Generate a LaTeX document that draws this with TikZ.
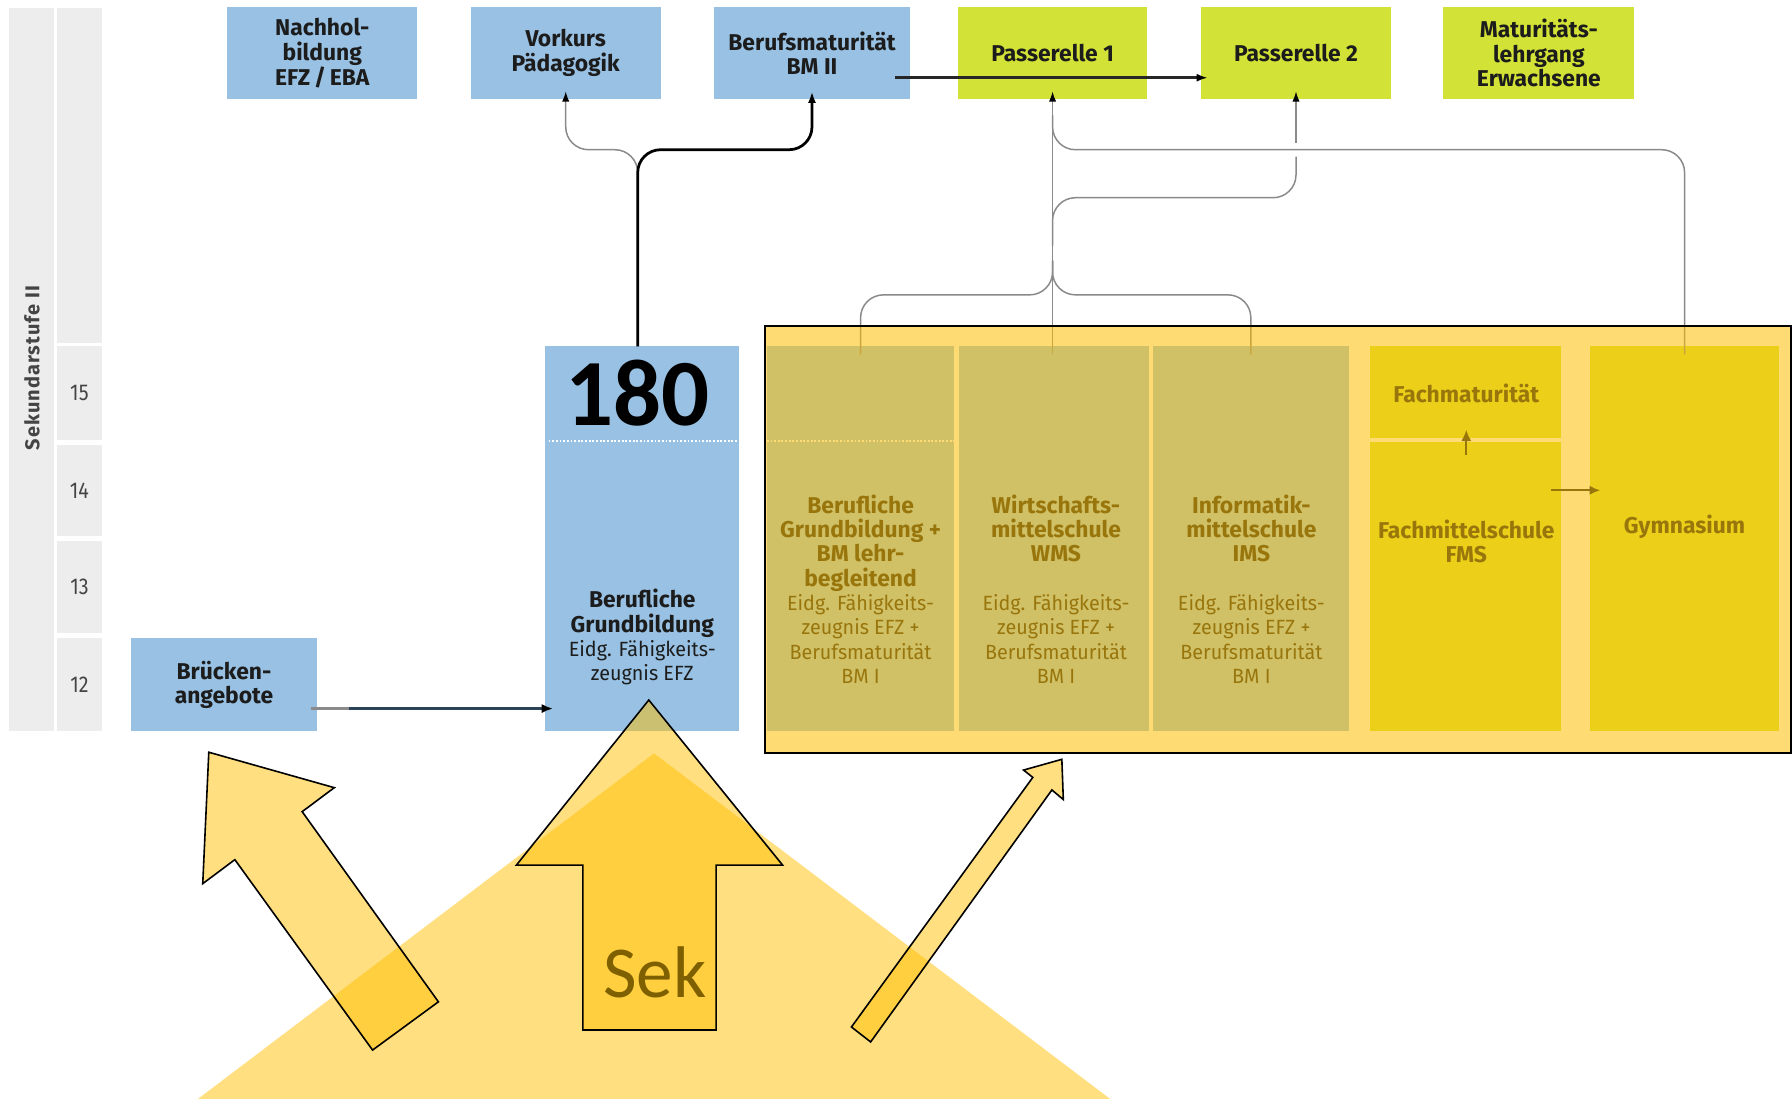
\documentclass[tikz,border=0pt]{standalone}
\usepackage{fontspec}
\setmainfont{Fira Sans}
\newfontfamily\condfont[FakeStretch=0.96]{Fira Sans}
\newfontfamily\numfont[FakeStretch=0.86]{Fira Sans}
\newfontfamily\spacedfont[LetterSpace=5]{Fira Sans}
\newfontfamily\calib{Carlito}
\usetikzlibrary{arrows.meta,calc}

\definecolor{bblue}{HTML}{98C1E3}
\definecolor{lime}{HTML}{D3E236}
\definecolor{stripgrey}{HTML}{EDEDED}
\definecolor{cgrey}{HTML}{8A8A8A}
\definecolor{ink}{HTML}{1C1C1C}
\definecolor{labgrey}{HTML}{444444}
\definecolor{amber}{HTML}{FFC000}
\definecolor{sekcol}{HTML}{7F6000}
\definecolor{darkline}{HTML}{2C4257}

\newcommand{\regline}[1]{{\condfont\mdseries\fontsize{18}{21.3}\selectfont #1}}

\tikzset{
  cell/.style={rectangle, inner sep=0pt, outer sep=0pt, draw=none},
  bluebox/.style={cell, fill=bblue},
  limebox/.style={cell, fill=lime},
  greybox/.style={cell, fill=stripgrey},
  toplbl/.style={align=center, text=ink, font=\bfseries\fontsize{20}{21.5}\selectfont},
  lbl/.style={align=center, text=ink, inner sep=0pt, font=\bfseries\fontsize{20}{21.3}\selectfont},
  numlbl/.style={text=labgrey, font=\numfont\fontsize{20}{21}\selectfont},
  conn/.style={draw=cgrey, line width=1.3pt, rounded corners=20pt},
  blackconn/.style={draw=black, line width=2.4pt, rounded corners=20pt},
  gtip/.style={-{Latex[length=9pt,width=6.5pt,color=black]}},
  uparrow/.style={draw=ink, line width=2pt, -{Latex[length=10pt,width=9pt]}},
  sidearrow/.style={draw=ink, line width=1.5pt, -{Latex[length=9pt,width=8pt]}},
  bigarrow/.style={fill=amber, fill opacity=0.5, draw=black, line width=1.4pt, line join=miter},
}

\begin{document}
\begin{tikzpicture}[x=1pt,y=-1pt]
\useasboundingbox (0,0) rectangle (1568,961);
\fill[white] (0,0) rectangle (1568,961);

% ---------- left strips
\node[greybox, minimum width=39pt, minimum height=633pt] (strip) at (27.5,323.5) {};
\node[rotate=90, inner sep=0pt, text=labgrey, font=\spacedfont\bfseries\fontsize{17.5}{18}\selectfont] (sekII) at (28,322) {Sekundarstufe II};
\node[greybox, minimum width=39pt, minimum height=293pt] (ytop) at (69.5,153.5) {};
\node[greybox, numlbl, minimum width=39pt, minimum height=82pt] (y15) at (69.5,344) {15};
\node[greybox, numlbl, minimum width=39pt, minimum height=80pt] (y14) at (69.5,429) {14};
\node[greybox, numlbl, minimum width=39pt, minimum height=81pt] (y13) at (69.5,513.5) {13};
\node[greybox, numlbl, minimum width=39pt, minimum height=82pt] (y12) at (69.5,599) {12};

% ---------- top row
\node[bluebox, toplbl, minimum width=166pt, minimum height=81pt] (nach) at (282,46.5) {Nachhol-\\bildung\\EFZ\,/\,EBA};
\node[bluebox, toplbl, minimum width=166pt, minimum height=81pt] (vork) at (495,46.5) {Vorkurs\\Pädagogik};
\node[bluebox, toplbl, minimum width=171pt, minimum height=81pt] (bm2) at (710.5,46.5) {Berufsmaturität\\BM II};
\node[limebox, toplbl, minimum width=166pt, minimum height=81pt] (pas1) at (921,46.5) {Passerelle 1};
\node[limebox, toplbl, minimum width=166pt, minimum height=81pt] (pas2) at (1134,46.5) {Passerelle 2};
\node[limebox, toplbl, minimum width=167pt, minimum height=81pt] (matu) at (1346.5,46.5) {Maturitäts-\\lehrgang\\Erwachsene};

% ---------- Brückenangebote and Berufliche Grundbildung
\node[bluebox, lbl, minimum width=162pt, minimum height=82pt] (brueck) at (196,599) {Brücken-\\angebote};
\node[bluebox, minimum width=170pt, minimum height=337pt] (gb) at (562,471.5) {};
\coordinate (dl) at (0,386);
\draw[white, line width=1.6pt, dash pattern=on 1.6pt off 1.6pt] ($(gb.west |- dl)+(3,0)$) -- ($(gb.east |- dl)+(-2,0)$);
\node[lbl] (gbtxt) at (562,557.5) {Berufliche\\Grundbildung\\\regline{Eidg. Fähigkeits-}\\\regline{zeugnis EFZ}};
\node[inner sep=0pt, anchor=base, text=black, font=\calib\bfseries\fontsize{83}{90}\selectfont] (n180) at (558,372) {180};

% Brücken -> Grundbildung
\coordinate (bs) at ($(brueck.east)+(-5,21)$);
\coordinate (bm) at ($(bs)+(33,0)$);
\draw[cgrey, line width=2.6pt] (bs) -- (bm);
\draw[darkline, line width=2.6pt, -{Latex[length=10pt,width=8pt,color=black]}, shorten >=-7pt] (bm) -- (bm -| gb.west);

% ---------- boxes inside the orange frame (drawn before the overlay)
\node[bluebox, minimum width=164pt, minimum height=337pt] (bgm) at (753,471.5) {};
\node[bluebox, minimum width=166pt, minimum height=337pt] (wms) at (922,471.5) {};
\node[bluebox, minimum width=171pt, minimum height=337pt] (ims) at (1094.5,471.5) {};
\node[limebox, minimum width=167pt, minimum height=80pt] (fachm) at (1282.5,343) {};
\node[limebox, minimum width=167pt, minimum height=253pt] (fms) at (1282.5,513.5) {};
\node[limebox, minimum width=166pt, minimum height=337pt] (gym) at (1474,471.5) {};
\draw[white, line width=1.6pt, dash pattern=on 1.6pt off 1.6pt] (bgm.west |- dl) -- (bgm.east |- dl);

\node[lbl] (bgmtxt) at (753,515.5) {Berufliche\\Grundbildung +\\BM lehr-\\begleitend\\\regline{Eidg. Fähigkeits-}\\\regline{zeugnis EFZ +}\\\regline{Berufsmaturität}\\\regline{BM I}};
\node[lbl] (wmstxt) at (924,515.5) {Wirtschafts-\\mittelschule\\WMS\\\mbox{}\\\regline{Eidg. Fähigkeits-}\\\regline{zeugnis EFZ +}\\\regline{Berufsmaturität}\\\regline{BM I}};
\node[lbl] (imstxt) at (1095,515.5) {Informatik-\\mittelschule\\IMS\\\mbox{}\\\regline{Eidg. Fähigkeits-}\\\regline{zeugnis EFZ +}\\\regline{Berufsmaturität}\\\regline{BM I}};
\node[lbl] (fachmtxt) at (1283,344) {Fachmaturität};
\node[lbl] (fmstxt) at (1283,473.5) {Fachmittelschule\\FMS};
\node[lbl] (gymtxt) at (1474,461) {Gymnasium};

\coordinate (ya) at (0,429);
\draw[uparrow] ($(fms.north)+(0.5,11)$) -- ($(fachm.south)+(0.5,-7)$);
\draw[sidearrow] ($(fms.east |- ya)+(-9,0)$) -- ($(gym.west |- ya)+(9,0)$);

% ---------- connectors
\coordinate (hA) at (0,131);
\coordinate (hB) at (0,173);
\coordinate (hC) at (0,258);
\coordinate (g180) at (558,303);

\draw[conn, gtip, shorten >=-7pt] (g180) -- (g180 |- hA) -- (vork.south |- hA) -- (vork.south);
\draw[blackconn, -{Latex[length=10pt,width=7pt]}, shorten >=-7pt] (g180) -- (g180 |- hA) -- (bm2.south |- hA) -- (bm2.south);

\draw[conn, shorten <=-7pt] (bgm.north) -- (bgm.north |- hC) -- (pas1.south |- hC) -- ++(0,-30);
\draw[conn, shorten <=-7pt] (ims.north) -- (ims.north |- hC) -- (pas1.south |- hC) -- ++(0,-30);
\draw[conn, gtip, shorten <=-7pt, shorten >=-7pt] (pas1.south |- wms.north) -- (pas1.south);
\draw[conn] ($(pas1.south |- hB)+(0,42)$) -- (pas1.south |- hB) -- (pas2.south |- hB) -- ($(pas2.south |- hA)+(0,6)$);
\draw[conn, gtip, shorten >=-7pt] ($(pas2.south |- hA)+(0,-6)$) -- (pas2.south);
\draw[conn, shorten <=-7pt] (gym.north) -- (gym.north |- hA) -- (pas1.south |- hA) -- ++(0,-30);

% BM II -> Passerelle 2
\coordinate (bmo) at ($(bm2.east)+(-13,21.5)$);
\draw[draw=black!85, line width=2.3pt, -{Latex[length=10pt,width=7pt,color=black]}, shorten >=-6pt] (bmo) -- (bmo -| pas2.west);

% ---------- orange overlay frame
\node[cell, fill=amber, fill opacity=0.55, draw=black, line width=1.8pt, minimum width=898pt, minimum height=374pt] (frame) at (1118,472) {};

% ---------- bottom shapes
\fill[amber, fill opacity=0.5] (572.3,659.2) -- (155.5,975) -- (989.1,975) -- cycle;
\filldraw[bigarrow] (567.7,612.5) -- (684.8,757) -- (626.6,757) -- (626.6,901.2) -- (510,901.2) -- (510,757) -- (451.8,757) -- cycle;
\filldraw[bigarrow] (182.7,658.2) -- (292.5,689.2) -- (264.4,710.2) -- (383.6,876.6) -- (326.0,918.8) -- (205.5,752.2) -- (177.4,773.2) -- cycle;
\filldraw[bigarrow] (929.1,664.4) -- (930.4,699.6) -- (920.4,691.2) -- (761.8,911.7) -- (745.0,898.6) -- (903.7,680.2) -- (895.6,673.8) -- cycle;
\node[inner sep=0pt, anchor=base, text=sekcol, font=\calib\fontsize{64}{64}\selectfont] (sek) at (573,873) {Sek};
\end{tikzpicture}
\end{document}
